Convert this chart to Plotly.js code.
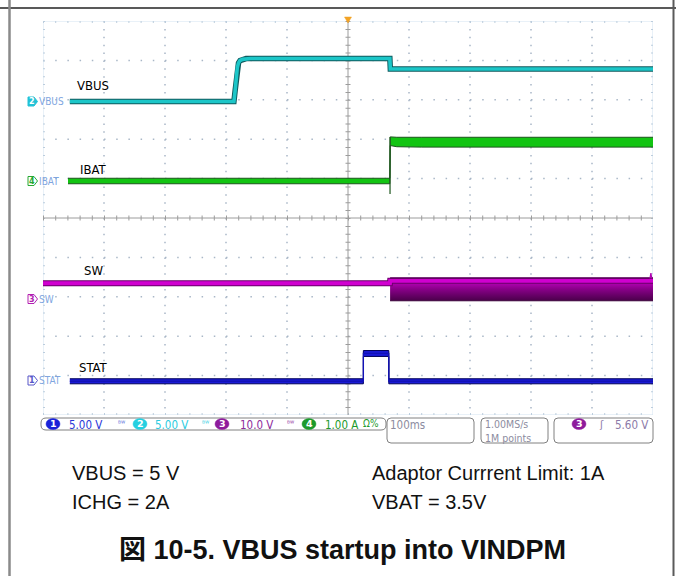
<!DOCTYPE html>
<html><head><meta charset="utf-8">
<script src="https://cdn.plot.ly/plotly-3.0.1.min.js"></script>
<style>html,body{margin:0;padding:0;background:#fff}#chart{width:676px;height:576px}</style>
</head><body><div id="chart"></div>
<script>
// ---------------- data (time in ms, values in physical units) ----------------
const vbusT = [-456,-187,-185,-183.5,-181.5,-179.5,-177,-173,-167,-160,68.6,69.4,500];
const vbusV = [0,0,1.4,3.0,4.3,4.9,5.2,5.35,5.45,5.46,5.46,4.12,4.12];

const ibatT  = [-459,68.6,69.2,80,120,500];
const ibatLo = [-0.07,-0.07,0.90,0.87,0.86,0.86];
const ibatHi = [0.07,0.07,1.12,1.11,1.11,1.11];
const ibatStepT = [68.9,68.9];
const ibatStepV = [-0.33,1.12];

const swT = [-500,68.7,69.1,500];
const swV = [3.98,3.98,4.65,4.65];
const swBandT  = [69.0,500];
const swBandLo = [-0.45,-0.45];
const swBandHi = [4.6,4.6];
const swTopT = [69.0,500];
const swTopV = [5.35,5.35];
const swSpikeT = [495,496.5,498];
const swSpikeV = [5.2,6.6,5.2];

const statT  = [-456,25.2,25.2,66.9,66.9,500];
const statLo = [-0.42,-0.42,3.05,3.05,-0.42,-0.42];
const statHi = [0.22,0.22,3.8,3.8,0.22,0.22];
const statMidV = [-0.1,-0.1,3.43,3.43,-0.1,-0.1];

const channelNames = ['STAT','VBUS','SW','IBAT'];
const channelScales = ['5.00 V','5.00 V','10.0 V','1.00 A'];
const timebase = '100ms';
const sampleRate = ['1.00MS/s','1M points'];
const triggerLevel = '5.60 V';
const notes = ['VBUS = 5 V','ICHG = 2A','Adaptor Currrent Limit: 1A','VBAT = 3.5V'];
const figTitle = '図 10-5. VBUS startup into VINDPM';

// channel vertical scale (units/div) and ground offset (div)
const VBUS_S=5, VBUS_O=2.957, IBAT_S=1, IBAT_O=0.939, SW_S=10, SW_O=-2.056, STAT_S=5, STAT_O=-4.124;
const toDiv = (a,s,o) => a.map(v => o + v/s);

// ---------------- geometry helpers ----------------
const PL=43, PR=653, PT=21, PB=415;
const X = px => (px-PL)/(PR-PL);
const Y = py => (PB-py)/(PB-PT);

const traces = [
  {x:vbusT,y:toDiv(vbusV,VBUS_S,VBUS_O),mode:'lines',line:{color:'#0f5a5e',width:5.5},hoverinfo:'skip'},
  {x:vbusT,y:toDiv(vbusV,VBUS_S,VBUS_O),mode:'lines',line:{color:'#1cc6c8',width:3.6},hoverinfo:'skip'},

  {x:ibatT,y:toDiv(ibatLo,IBAT_S,IBAT_O),mode:'lines',line:{color:'#1c551c',width:1},hoverinfo:'skip'},
  {x:ibatT,y:toDiv(ibatHi,IBAT_S,IBAT_O),mode:'lines',fill:'tonexty',fillcolor:'#12c412',line:{color:'#1c551c',width:1},hoverinfo:'skip'},
  {x:ibatStepT,y:toDiv(ibatStepV,IBAT_S,IBAT_O),mode:'lines',line:{color:'#1c551c',width:1.2},hoverinfo:'skip'},

  {x:swBandT,y:toDiv(swBandLo,SW_S,SW_O),mode:'lines',line:{color:'#3a003a',width:1},hoverinfo:'skip'},
  {x:swBandT,y:toDiv(swBandHi,SW_S,SW_O),mode:'lines',fill:'tonexty',
   fillgradient:{type:'vertical',colorscale:[[0,'#4a004a'],[0.6,'#8a008a'],[1,'#c000c0']],
     start:SW_O+swBandLo[0]/SW_S, stop:SW_O+swBandHi[0]/SW_S},
   line:{color:'#8a008a',width:0.5},hoverinfo:'skip'},
  {x:swT,y:toDiv(swV,SW_S,SW_O),mode:'lines',line:{color:'#6a006a',width:6},hoverinfo:'skip'},
  {x:swT,y:toDiv(swV,SW_S,SW_O),mode:'lines',line:{color:'#d000d0',width:4},hoverinfo:'skip'},
  {x:swTopT,y:toDiv(swTopV,SW_S,SW_O),mode:'lines',line:{color:'#5a005a',width:1.5},hoverinfo:'skip'},
  {x:swSpikeT,y:toDiv(swSpikeV,SW_S,SW_O),mode:'lines',line:{color:'#b000b0',width:1.2},hoverinfo:'skip'},

  {x:statT,y:toDiv(statLo,STAT_S,STAT_O),mode:'lines',line:{color:'#00005a',width:1},hoverinfo:'skip'},
  {x:statT,y:toDiv(statHi,STAT_S,STAT_O),mode:'lines',fill:'tonexty',fillcolor:'#1a1ad6',line:{color:'#00005a',width:1},hoverinfo:'skip'},
  {x:statT,y:toDiv(statMidV,STAT_S,STAT_O),mode:'lines',line:{color:'#1212b8',width:1.3},hoverinfo:'skip'}
];

const shapes = [];
const annotations = [];
function ln(x0,y0,x1,y1,color,width,dash,ref,layer){
  shapes.push({type:'line',xref:ref?'x':'paper',yref:ref?'y':'paper',x0,y0,x1,y1,
    line:{color,width,dash:dash||'solid'},layer:layer||'below'});
}
// graticule
const dotC='#a9b7c7';
for(let i=1;i<10;i++){ if(i===5) continue; ln(-500,-5+i,500,-5+i,dotC,1.5,'1.5px,10.7px',true); }
for(let i=1;i<10;i++){ if(i===5) continue; ln(-500+100*i,5,-500+100*i,-5,dotC,1.5,'1.5px,6.38px',true); }
shapes.push({type:'rect',xref:'x',yref:'y',x0:-500,x1:500,y0:-5,y1:5,line:{color:'#d3e3f1',width:1},layer:'below'});
ln(-500,5,500,5,'#bccddd',4,'1px,11.2px',true);
ln(-500,-5,500,-5,'#bccddd',4,'1px,11.2px',true);
ln(-500,5,-500,-5,'#bccddd',4,'1px,6.88px',true);
ln(500,5,500,-5,'#bccddd',4,'1px,6.88px',true);
ln(-500,0,500,0,'#9c9c9c',1,'solid',true);
ln(-500,0,500,0,'#9c9c9c',5,'1px,11.2px',true);
ln(0,5,0,-5,'#9c9c9c',1,'solid',true);
ln(0,5,0,-5,'#9c9c9c',5,'1px,6.88px',true);

// frame
ln(X(0),Y(8),X(676),Y(8),'#222',1.5,'solid',false,'above');
ln(X(9.5),Y(0),X(9.5),Y(576),'#8a8a8a',2.5,'solid',false,'above');
ln(X(673.5),Y(0),X(673.5),Y(576),'#5a5a5a',2,'solid',false,'above');

// trigger marker
shapes.push({type:'path',xref:'paper',yref:'paper',
  path:`M${X(344.5)},${Y(17)} L${X(351.5)},${Y(17)} L${X(348)},${Y(23)} Z`,
  fillcolor:'#f2a324',line:{color:'#f2a324',width:0.5},layer:'above'});

function txt(text,px,py,o){
  o=o||{};
  annotations.push({xref:'paper',yref:'paper',x:X(px),y:Y(py),text,showarrow:false,
    xanchor:o.xa||'left',yanchor:'middle',align:'left',borderpad:0,
    font:{family:o.family||'Liberation Sans, Arial, sans-serif',size:o.size||12,color:o.color||'#000',weight:o.weight||'normal'}});
}

// left channel markers
function marker(py,num,col,filled,label){
  shapes.push({type:'path',xref:'paper',yref:'paper',
    path:`M${X(28)},${Y(py-4.5)} L${X(34)},${Y(py-4.5)} L${X(37.5)},${Y(py)} L${X(34)},${Y(py+4.5)} L${X(28)},${Y(py+4.5)} Z`,
    fillcolor:filled?col:'#ffffff',line:{color:col,width:1},layer:'above'});
  txt(num,31.5,py,{xa:'center',size:8,weight:'bold',color:filled?'#ffffff':col,family:'DejaVu Sans, sans-serif'});
  txt(label,38,py,{size:10,color:'#7fa6df',family:'DejaVu Sans Condensed, DejaVu Sans, sans-serif'});
}
marker(101.5,'2','#22c2d6',true,channelNames[1]);
marker(181,'4','#26a833',false,channelNames[3]);
marker(299,'3','#b21fb2',false,channelNames[2]);
marker(380.5,'1','#5656c8',false,channelNames[0]);

// big trace labels
const lblFont='Liberation Sans Narrow, DejaVu Sans Condensed, sans-serif';
txt(channelNames[1],92.5,85,{xa:'center',size:13,family:lblFont});
txt(channelNames[3],93,169,{xa:'center',size:13,family:lblFont});
txt(channelNames[2],93,270,{xa:'center',size:13,family:lblFont});
txt(channelNames[0],93,367,{xa:'center',size:13,family:lblFont});

// status bar
function rbox(x0,y0,x1,y1,r){
  const p=`M${X(x0+r)},${Y(y0)} L${X(x1-r)},${Y(y0)} Q${X(x1)},${Y(y0)} ${X(x1)},${Y(y0+r)} L${X(x1)},${Y(y1-r)} Q${X(x1)},${Y(y1)} ${X(x1-r)},${Y(y1)} L${X(x0+r)},${Y(y1)} Q${X(x0)},${Y(y1)} ${X(x0)},${Y(y1-r)} L${X(x0)},${Y(y0+r)} Q${X(x0)},${Y(y0)} ${X(x0+r)},${Y(y0)} Z`;
  shapes.push({type:'path',xref:'paper',yref:'paper',path:p,fillcolor:'#ffffff',line:{color:'#808080',width:1},layer:'above'});
}
rbox(41,418,386,430,5);
rbox(387,418,474,443,4);
rbox(481,418,548,443,4);
rbox(554,418,653,443,4);
function pill(cx,cy,col,num){
  shapes.push({type:'circle',xref:'paper',yref:'paper',x0:X(cx-7),x1:X(cx+7),y0:Y(cy-5.5),y1:Y(cy+5.5),
    fillcolor:col,line:{color:col,width:0.5},layer:'above'});
  txt(num,cx,cy,{xa:'center',size:9.5,weight:'bold',color:'#ffffff',family:'DejaVu Sans, sans-serif'});
}
const sf='DejaVu Sans Condensed, DejaVu Sans, sans-serif';
pill(53,424,'#1a22d8','1');
txt(channelScales[0],68,424.5,{size:11.5,color:'#2a36d8',family:sf});
txt('ᴮᵂ',117,424,{size:7.5,color:'#4a66d8',family:sf});
pill(140,424,'#25cfe0','2');
txt(channelScales[1],154,424.5,{size:11.5,color:'#2ccbe0',family:sf});
txt('ᴮᵂ',201,424,{size:7.5,color:'#2ccbe0',family:sf});
pill(222,424,'#8e1c9c','3');
txt(channelScales[2],239,424.5,{size:11.5,color:'#8e2a9c',family:sf});
txt('ᴮᵂ',286,424,{size:7.5,color:'#8e2a9c',family:sf});
pill(309,424,'#1c9a2c','4');
txt(channelScales[3],324,424.5,{size:11.5,color:'#1c9a2c',family:sf});
txt('Ω%',362,424,{size:10,color:'#1c9a2c',family:sf});
txt(timebase,389,425,{size:11.5,color:'#8c8ca0',family:sf});
txt(sampleRate.join('<br>'),484,431,{size:10.5,color:'#8c8ca0',family:sf});
pill(579,424,'#8e1c9c','3');
txt('ʃ',598,424.5,{size:11,color:'#8c7aa8',family:sf});
txt(triggerLevel,614,424.5,{size:11.5,color:'#8c7aa8',family:sf});

// notes and caption
txt(notes[0],71,473.5,{size:20,color:'#111'});
txt(notes[1],71,502,{size:20,color:'#111'});
txt(notes[2],371,473.5,{size:20,color:'#111'});
txt(notes[3],371,502,{size:20,color:'#111'});
txt(figTitle,342,550,{xa:'center',size:27,weight:'bold',color:'#111',family:'Liberation Sans, Noto Sans CJK JP, sans-serif'});

const layout = {
  width:676,height:576,margin:{l:PL,r:676-PR,t:PT,b:576-PB,pad:0},
  paper_bgcolor:'#ffffff',plot_bgcolor:'#ffffff',showlegend:false,
  xaxis:{range:[-500,500],visible:false,fixedrange:true},
  yaxis:{range:[-5,5],visible:false,fixedrange:true},
  shapes,annotations
};
Plotly.newPlot('chart',traces,layout,{displayModeBar:false,staticPlot:true});
</script></body></html>
